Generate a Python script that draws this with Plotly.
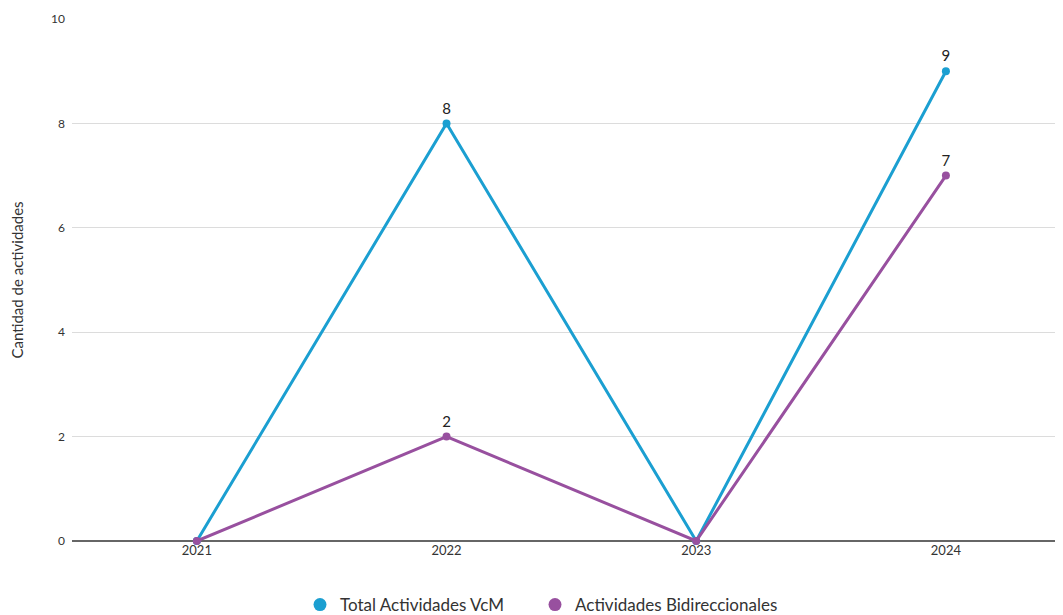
import plotly.graph_objects as go

years = ["2021", "2022", "2023", "2024"]
total_vcm = [0, 8, 0, 9]
bidireccionales = [0, 2, 0, 7]
total_labels = ["", "8", "", "9"]
bid_labels = ["", "2", "", "7"]

BLUE = "#1b9fd1"
PURPLE = "#98509f"
FONT = "Lato, 'Open Sans', sans-serif"
FIG_W = 1055

fig = go.Figure()
fig.add_trace(go.Scatter(x=years, y=total_vcm, mode="lines+markers+text", text=total_labels,
                         textposition="top center", textfont=dict(size=15, color="#222"),
                         line=dict(color=BLUE, width=3), marker=dict(size=8, color=BLUE),
                         showlegend=False, cliponaxis=False))
fig.add_trace(go.Scatter(x=years, y=bidireccionales, mode="lines+markers+text", text=bid_labels,
                         textposition="top center", textfont=dict(size=15, color="#222"),
                         line=dict(color=PURPLE, width=3), marker=dict(size=8, color=PURPLE),
                         showlegend=False, cliponaxis=False))
fig.add_trace(go.Scatter(x=[None], y=[None], mode="markers", name="Total Actividades VcM",
                         marker=dict(size=13, color=BLUE), legend="legend"))
fig.add_trace(go.Scatter(x=[None], y=[None], mode="markers", name="Actividades Bidireccionales",
                         marker=dict(size=13, color=PURPLE), legend="legend2"))

leg_common = dict(orientation="h", xref="container", yref="container", xanchor="left",
                  y=0.0165, yanchor="middle", font=dict(size=17, color="#333"), itemwidth=30)

fig.update_layout(
    width=FIG_W, height=607,
    margin=dict(l=64, r=0, t=11, b=74),
    plot_bgcolor="white", paper_bgcolor="white",
    font=dict(family=FONT, color="#333"),
    xaxis=dict(type="category", range=[-0.5, 3.469], showgrid=False, showline=False,
               tickfont=dict(size=13, color="#333"), ticks="", zeroline=False),
    yaxis=dict(range=[0, 10], dtick=2, gridcolor="#dcdcdc", gridwidth=1,
               zeroline=True, zerolinecolor="#666", zerolinewidth=1.5,
               tickfont=dict(size=12, color="#333"), ticks="", ticklabelstandoff=6,
               title=dict(text="Cantidad de actividades", font=dict(size=15, color="#333"), standoff=26)),
    legend=dict(x=(320 - 8 - 20) / FIG_W, **leg_common),
    legend2=dict(x=(555 - 8 - 20) / FIG_W, **leg_common),
)
fig.write_html("out.html")
